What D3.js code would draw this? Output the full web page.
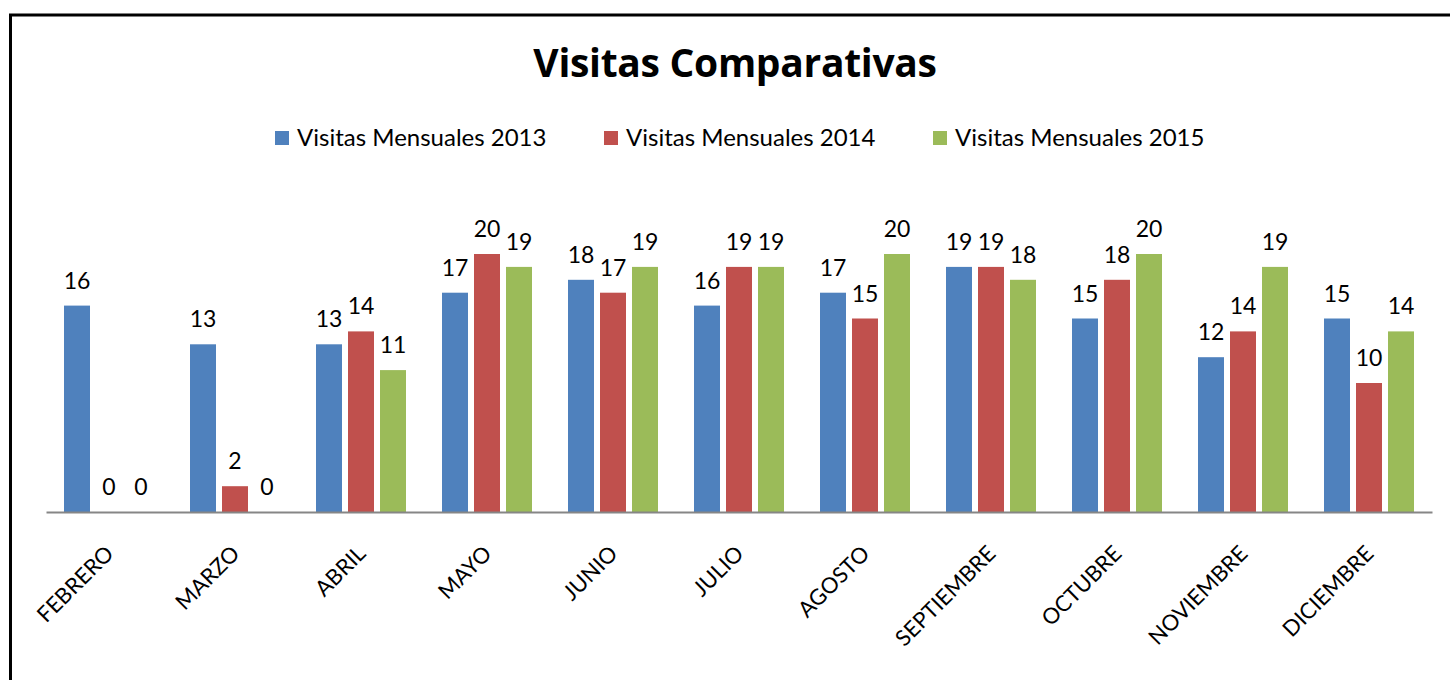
<!DOCTYPE html>
<html>
<head>
<meta charset="utf-8">
<script src="https://cdn.jsdelivr.net/npm/d3@7"></script>
<style>
  body { margin: 0; background: #fff; }
  svg { display: block; font-family: Lato, "Open Sans", sans-serif; }
</style>
</head>
<body>
<svg id="svg" width="1450" height="680"></svg>
<script>
// chart data
let months = ["FEBRERO", "MARZO", "ABRIL", "MAYO", "JUNIO", "JULIO", "AGOSTO",
  "SEPTIEMBRE", "OCTUBRE", "NOVIEMBRE", "DICIEMBRE"];
let seriesNames = ["Visitas Mensuales 2013", "Visitas Mensuales 2014", "Visitas Mensuales 2015"];
let visitas2013 = [16, 13, 13, 17, 18, 16, 17, 19, 15, 12, 15];
let visitas2014 = [0, 2, 14, 20, 17, 19, 15, 19, 18, 14, 10];
let visitas2015 = [0, 0, 11, 19, 19, 19, 20, 18, 20, 19, 14];
let colors = ["#4F81BD", "#C0504D", "#9BBB59"];

let allSeries = [visitas2013, visitas2014, visitas2015];

let svg = d3.select("#svg");

// outer border of the chart (cut off on right and bottom)
svg.append("rect")
  .attr("x", 10.5).attr("y", 15)
  .attr("width", 1500).attr("height", 700)
  .attr("fill", "none")
  .attr("stroke", "#000")
  .attr("stroke-width", 3);

// title
svg.append("text")
  .attr("x", 735).attr("y", 77)
  .attr("text-anchor", "middle")
  .attr("font-family", "'Open Sans', sans-serif")
  .attr("font-weight", "bold")
  .attr("font-size", 39)
  .attr("letter-spacing", -0.3)
  .text("Visitas Comparativas");

// legend
let legend = svg.append("g").attr("transform", "translate(275,0)");
seriesNames.forEach((name, i) => {
  let item = legend.append("g").attr("transform", "translate(" + (i * 329) + ",0)");
  item.append("rect")
    .attr("x", 0).attr("y", 131)
    .attr("width", 14).attr("height", 14)
    .attr("fill", colors[i]);
  item.append("text")
    .attr("x", 22).attr("y", 146)
    .attr("font-size", 24)
    .attr("fill", "#000")
    .text(name);
});

// scales
let x = d3.scaleBand()
  .domain(months)
  .range([46, 1432])
  .padding(0);

let xInner = d3.scaleBand()
  .domain(d3.range(allSeries.length))
  .range([0, x.bandwidth()])
  .paddingInner(0.1875)
  .paddingOuter(0.5625);

let y = d3.scaleLinear()
  .domain([0, 25])
  .range([512, 512 - 25 * 12.9]);

let g = svg.append("g");

// bars and labels
allSeries.forEach((values, s) => {
  let grp = g.append("g");
  grp.selectAll("rect")
    .data(values)
    .join("rect")
    .attr("x", (d, i) => x(months[i]) + xInner(s))
    .attr("y", d => y(d))
    .attr("width", xInner.bandwidth())
    .attr("height", d => y(0) - y(d))
    .attr("fill", colors[s]);

  grp.selectAll("text")
    .data(values)
    .join("text")
    .attr("x", (d, i) => x(months[i]) + xInner(s) + xInner.bandwidth() / 2)
    .attr("y", d => y(d) - 17)
    .attr("text-anchor", "middle")
    .attr("font-size", 23)
    .attr("fill", "#000")
    .text(d => d);
});

// x axis
let xAxis = g.append("g")
  .attr("transform", "translate(0,512)")
  .call(d3.axisBottom(x).tickSize(0).tickPadding(0));

xAxis.select(".domain")
  .attr("stroke", "#868686")
  .attr("stroke-width", 2);

xAxis.selectAll("text")
  .attr("font-family", "Lato, sans-serif")
  .attr("font-size", 22)
  .attr("fill", "#000")
  .attr("text-anchor", "end")
  .attr("dy", 0)
  .attr("y", 0)
  .attr("transform", "translate(6,43) rotate(-45)");
</script>
</body>
</html>
